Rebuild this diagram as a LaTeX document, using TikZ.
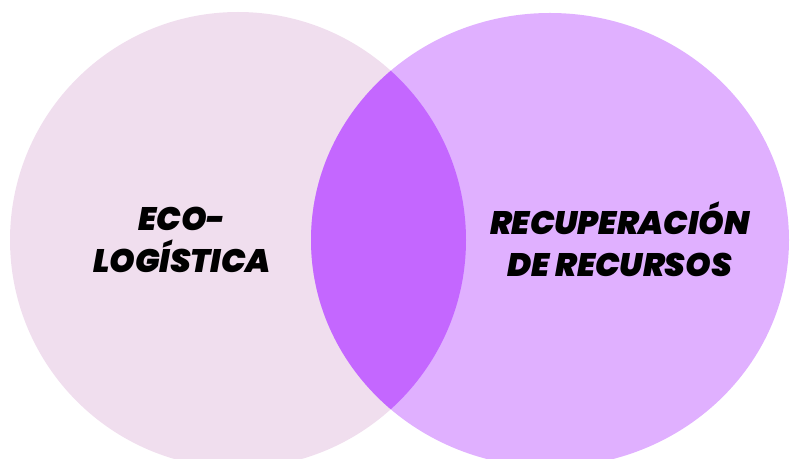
\documentclass[tikz,border=0pt]{standalone}
\usepackage{fontspec}
\setmainfont{Poppins}
\newfontfamily\heavyfont{Poppins Black Italic}
\definecolor{ecopink}{RGB}{240,222,238}
\definecolor{recmauve}{RGB}{224,176,255}
\definecolor{lensviolet}{RGB}{196,103,255}
\tikzset{venntext/.style={align=center,font=\fontsize{32.5}{42}\heavyfont,text=black}}

\begin{document}
\begin{tikzpicture}[x=1pt,y=1pt]
            \useasboundingbox (0,0) rectangle (790,458);
            \begin{scope}
                \clip (0,0) rectangle (790,458);
                \fill[ecopink] (238,218) circle (228);
                \fill[recmauve] (550,218) ellipse (239 and 227);
                \begin{scope}
                    \clip (238,218) circle (228);
                    \fill[lensviolet] (550,218) ellipse (239 and 227);
                \end{scope}
            \end{scope}
            \node[venntext] (eco) at (182,218) {ECO-\\LOGÍSTICA};
            \node[venntext] (recursos) at (620,219) {RECUPERACIÓN\\DE RECURSOS};
        \end{tikzpicture}
\end{document}
